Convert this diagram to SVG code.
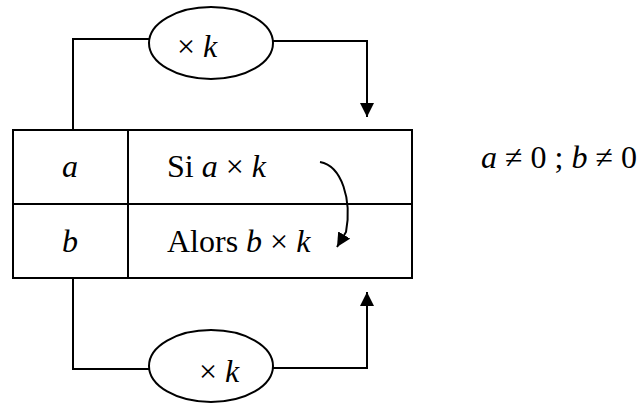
<svg xmlns="http://www.w3.org/2000/svg" width="638" height="403" viewBox="0 0 638 403">
<style>
.ln{fill:none;stroke:#000;stroke-width:2}
text{font-family:"Liberation Serif",serif;font-size:32px;fill:#000}
.i{font-style:italic}
</style>
<defs>
<marker id="ah2" viewBox="0 0 10 10" refX="10" refY="5" markerWidth="14" markerHeight="14" markerUnits="userSpaceOnUse" orient="auto">
<path d="M0,0 L10,5 L0,10 z" fill="#000"/>
</marker>
</defs>
<rect width="638" height="403" fill="#fff"/>
<g id="table">
<rect x="13" y="130" width="399" height="148" class="ln"/>
<line x1="13" y1="204" x2="412" y2="204" class="ln"/>
<line x1="128" y1="130" x2="128" y2="278" class="ln"/>
<text x="70" y="177" font-size="32" class="i" text-anchor="middle">a</text>
<text x="70" y="252" font-size="32" class="i" text-anchor="middle">b</text>
<text x="167" y="177" font-size="32">Si <tspan class="i">a</tspan> × <tspan class="i">k</tspan></text>
<text x="167" y="252" font-size="32">Alors <tspan class="i">b</tspan> × <tspan class="i">k</tspan></text>
</g>
<g id="top-op">
<ellipse cx="211" cy="43" rx="62" ry="36" class="ln"/>
<text x="177" y="57" font-size="32">× <tspan class="i">k</tspan></text>
</g>
<g id="bottom-op">
<ellipse cx="211" cy="366" rx="62" ry="36" class="ln"/>
<text x="199" y="382" font-size="32">× <tspan class="i">k</tspan></text>
</g>
<g id="condition">
<text x="481" y="168" font-size="32"><tspan class="i">a</tspan> ≠ 0 ; <tspan class="i">b</tspan> ≠ 0</text>
</g>
<g id="connectors">
<polyline points="73,130 73,39 149,39" class="ln"/>
<polyline points="273,41 367,41 367,117" class="ln" marker-end="url(#ah2)"/>
<polyline points="73,278 73,369 149,369" class="ln"/>
<polyline points="273,368 367,368 367,292" class="ln" marker-end="url(#ah2)"/>
<path d="M320,162 C342,166 352,200 346,232 L337,247" class="ln" marker-end="url(#ah2)"/>
</g>
</svg>
